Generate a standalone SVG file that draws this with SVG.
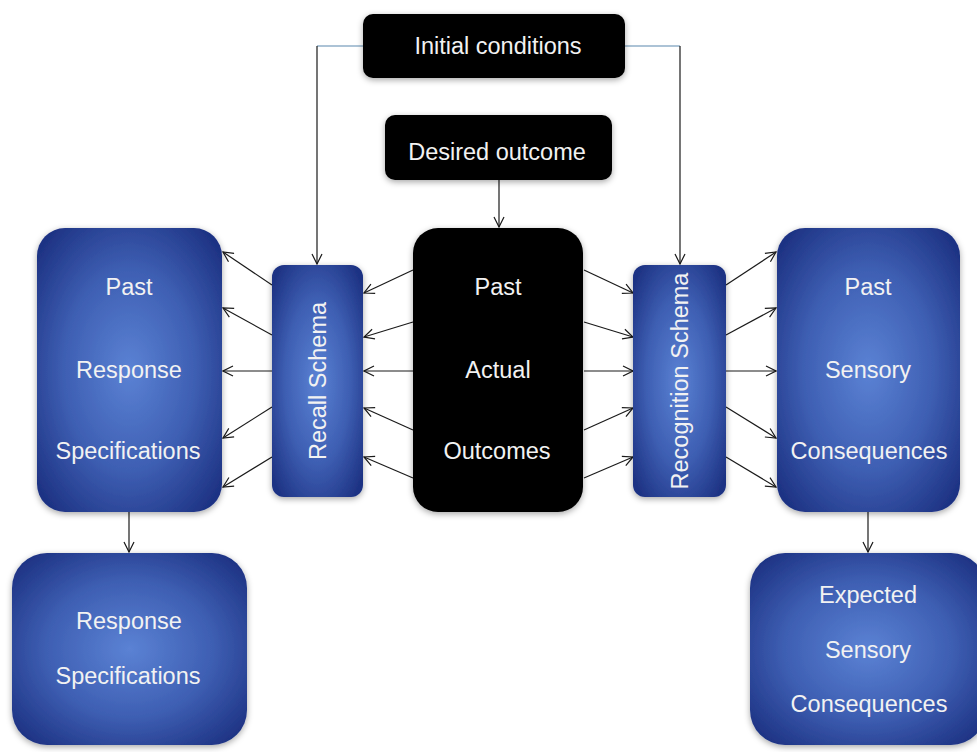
<svg xmlns="http://www.w3.org/2000/svg" width="977" height="752" viewBox="0 0 977 752">
  <style>
    .lbl { font-family: "Liberation Sans", Arial, sans-serif; font-size: 23.5px; fill: #f2f2f2; text-anchor: middle; dominant-baseline: central; }
    .blue { fill: url(#blueGrad); filter: url(#shadow); }
    .blk { fill: #050505; filter: url(#shadow); }
    .arr { stroke: #1a1a1a; stroke-width: 1.2; fill: none; marker-end: url(#head); }
    .tint { stroke: #5b87ad; stroke-width: 1.2; fill: none; }
  </style>
  <defs>
    <radialGradient id="blueGrad" cx="0.5" cy="0.5" r="0.64">
      <stop offset="0" stop-color="#5b82d4"/>
      <stop offset="0.55" stop-color="#3e5fb3"/>
      <stop offset="1" stop-color="#1e3384"/>
    </radialGradient>
    <filter id="shadow" x="-20%" y="-20%" width="140%" height="140%">
      <feDropShadow dx="0" dy="2" stdDeviation="3" flood-color="#000" flood-opacity="0.35"/>
    </filter>
    <marker id="head" markerWidth="12" markerHeight="12" refX="11" refY="6" orient="auto" markerUnits="userSpaceOnUse">
      <path d="M1,1 L11,6 L1,11" fill="none" stroke="#1a1a1a" stroke-width="1.2"/>
    </marker>
  </defs>
  <rect width="977" height="752" fill="#ffffff"/>

  <!-- connectors -->
  <g id="connectors">
    <!-- initial conditions feeds both schemas -->
    <path class="tint" d="M363,46 H317"/>
    <path class="arr" d="M317,46 V264"/>
    <path class="tint" d="M625,46 H680"/>
    <path class="arr" d="M680,46 V264"/>
    <!-- desired outcome into past outcomes -->
    <path class="arr" d="M499,180 V227"/>
    <!-- past actual outcomes to recall schema -->
    <path class="arr" d="M413,270 L364,293"/>
    <path class="arr" d="M413,322 L364,337"/>
    <path class="arr" d="M413,371 L364,371"/>
    <path class="arr" d="M413,430 L364,408"/>
    <path class="arr" d="M413,478 L364,457"/>
    <!-- recall schema to past response specifications -->
    <path class="arr" d="M272,285 L223,252"/>
    <path class="arr" d="M272,335 L223,308"/>
    <path class="arr" d="M272,371 L223,371"/>
    <path class="arr" d="M272,407 L223,438"/>
    <path class="arr" d="M272,457 L223,487"/>
    <!-- past actual outcomes to recognition schema -->
    <path class="arr" d="M584,270 L633,293"/>
    <path class="arr" d="M584,322 L633,337"/>
    <path class="arr" d="M584,371 L633,371"/>
    <path class="arr" d="M584,430 L633,408"/>
    <path class="arr" d="M584,478 L633,457"/>
    <!-- recognition schema to past sensory consequences -->
    <path class="arr" d="M726,285 L776,252"/>
    <path class="arr" d="M726,335 L776,308"/>
    <path class="arr" d="M726,371 L776,371"/>
    <path class="arr" d="M726,407 L776,438"/>
    <path class="arr" d="M726,457 L776,487"/>
    <!-- downward outputs -->
    <path class="arr" d="M129,512 V552"/>
    <path class="arr" d="M868,512 V552"/>
  </g>

  <g id="initial-conditions">
    <rect class="blk" x="363" y="14" width="262" height="64" rx="10"/>
    <text class="lbl" x="498" y="46">Initial conditions</text>
  </g>

  <g id="desired-outcome">
    <rect class="blk" x="385" y="115" width="227" height="65" rx="10"/>
    <text class="lbl" x="497" y="152">Desired outcome</text>
  </g>

  <g id="past-response-specifications">
    <rect class="blue" x="37" y="228" width="185" height="284" rx="28"/>
    <text class="lbl" x="129" y="287">Past</text>
    <text class="lbl" x="129" y="370">Response</text>
    <text class="lbl" x="128" y="451">Specifications</text>
  </g>

  <g id="recall-schema">
    <rect class="blue" x="272" y="265" width="91" height="232" rx="12"/>
    <text class="lbl" transform="translate(317.5,381) rotate(-90)" x="0" y="0">Recall Schema</text>
  </g>

  <g id="past-actual-outcomes">
    <rect class="blk" x="413" y="228" width="170" height="284" rx="25"/>
    <text class="lbl" x="498" y="287">Past</text>
    <text class="lbl" x="498" y="370">Actual</text>
    <text class="lbl" x="497" y="451">Outcomes</text>
  </g>

  <g id="recognition-schema">
    <rect class="blue" x="633" y="265" width="93" height="232" rx="12"/>
    <text class="lbl" transform="translate(679.5,381) rotate(-90)" x="0" y="0">Recognition Schema</text>
  </g>

  <g id="past-sensory-consequences">
    <rect class="blue" x="777" y="228" width="183" height="284" rx="28"/>
    <text class="lbl" x="868" y="287">Past</text>
    <text class="lbl" x="868" y="370">Sensory</text>
    <text class="lbl" x="869" y="451">Consequences</text>
  </g>

  <g id="response-specifications">
    <rect class="blue" x="12" y="553" width="235" height="192" rx="35"/>
    <text class="lbl" x="129" y="621">Response</text>
    <text class="lbl" x="128" y="676">Specifications</text>
  </g>

  <g id="expected-sensory-consequences">
    <rect class="blue" x="750" y="553" width="236" height="192" rx="35"/>
    <text class="lbl" x="868" y="595">Expected</text>
    <text class="lbl" x="868" y="650">Sensory</text>
    <text class="lbl" x="869" y="704">Consequences</text>
  </g>
</svg>
